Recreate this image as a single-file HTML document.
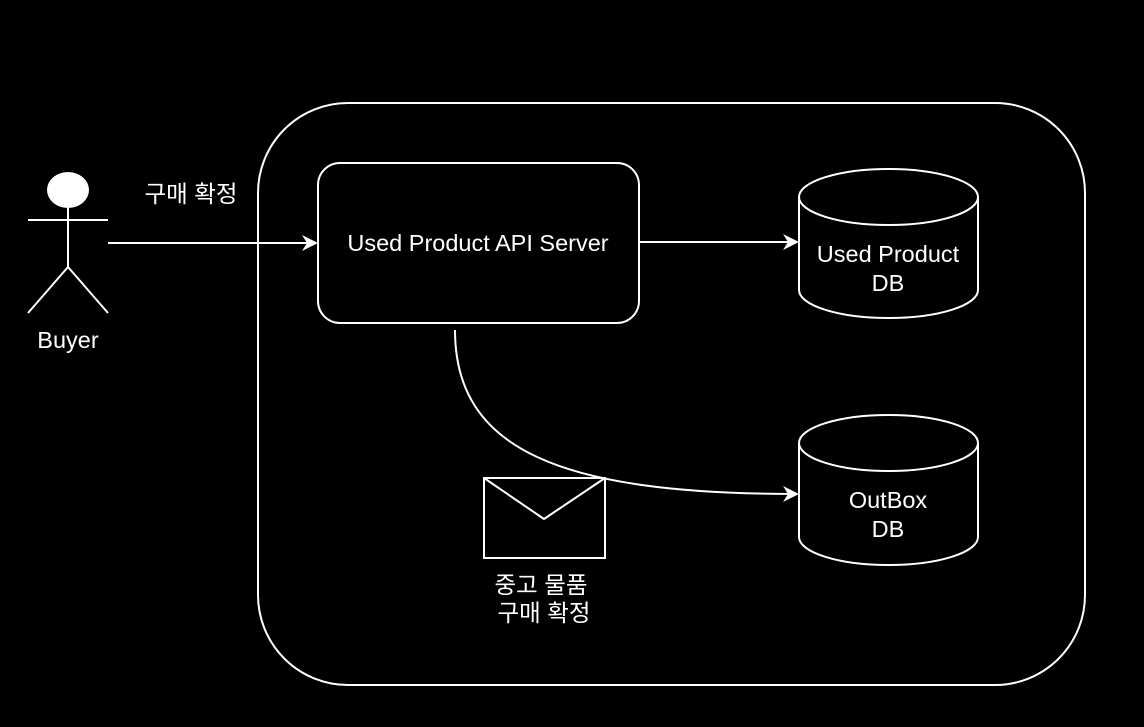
<!DOCTYPE html>
<html><head><meta charset="utf-8"><style>
html,body{margin:0;padding:0;background:#000;}
text{font-family:"Liberation Sans","Noto Sans CJK KR",sans-serif;fill:#fff;font-size:23.5px;}
.k{font-size:23.5px;}
</style></head><body>
<svg width="1144" height="722" viewBox="0 0 1144 722" xmlns="http://www.w3.org/2000/svg">
<defs><marker id="a" markerWidth="16" markerHeight="16" refX="14" refY="8" orient="auto" markerUnits="userSpaceOnUse"><path d="M0,0 L16,8 L0,16 L5,8 Z" fill="#fff"/></marker></defs>
<g fill="none" stroke="#fff" stroke-width="2">
<rect x="258" y="103" width="827" height="582" rx="90"/>
<rect x="318" y="163" width="321" height="160" rx="22"/>
<path d="M799,197 L799,290 A89.5,28 0 0 0 978,290 L978,197"/>
<ellipse cx="888.5" cy="197" rx="89.5" ry="28"/>
<path d="M799,443 L799,537 A89.5,28 0 0 0 978,537 L978,443"/>
<ellipse cx="888.5" cy="443" rx="89.5" ry="28"/>
<line x1="68" y1="208" x2="68" y2="267"/>
<line x1="28" y1="220" x2="108" y2="220"/>
<line x1="68" y1="267" x2="28" y2="313"/>
<line x1="68" y1="267" x2="108" y2="313"/>
<line x1="108" y1="243" x2="316" y2="243" marker-end="url(#a)"/>
<line x1="639" y1="242" x2="797" y2="242" marker-end="url(#a)"/>
<path d="M455,330 C455,450 560,494 797,494" marker-end="url(#a)"/>
<rect x="484" y="478" width="121" height="80"/>
<path d="M484,478 L544,519 L605,478"/>
</g>
<ellipse cx="68" cy="190" rx="21" ry="18" fill="#fff"/>
<text x="68" y="348" text-anchor="middle">Buyer</text>
<text x="191" y="202" text-anchor="middle">구매 확정</text>
<text x="478" y="251" text-anchor="middle">Used Product API Server</text>
<text x="888" y="262" text-anchor="middle">Used Product</text>
<text x="888" y="291" text-anchor="middle">DB</text>
<text x="888" y="508" text-anchor="middle">OutBox</text>
<text x="888" y="537" text-anchor="middle">DB</text>
<text x="541" y="593" text-anchor="middle">중고 물품</text>
<text x="544" y="621" text-anchor="middle">구매 확정</text>
</svg>
</body></html>
